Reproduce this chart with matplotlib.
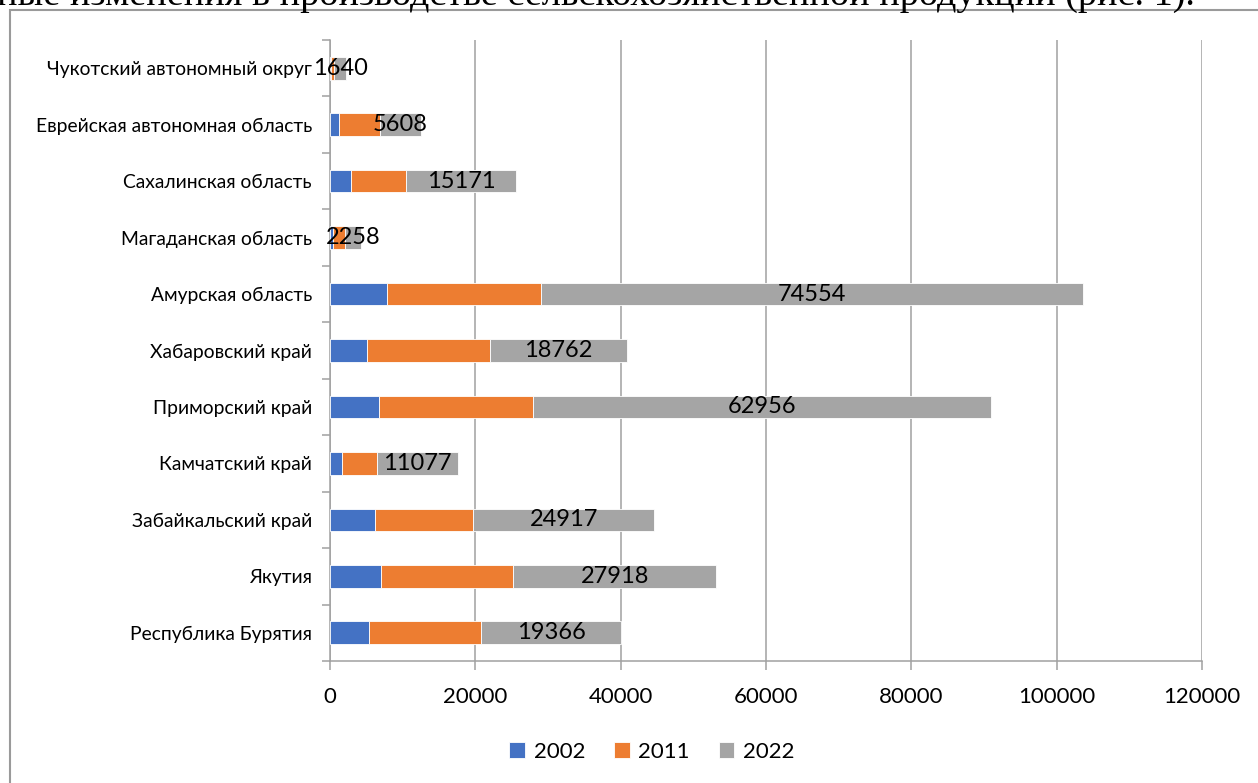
import matplotlib
matplotlib.use('Agg')
import matplotlib.pyplot as plt
from matplotlib.patches import Rectangle
import numpy as np

plt.rcParams['font.family'] = ['Lato', 'DejaVu Sans']

# регионы снизу вверх
regions = ['Республика Бурятия', 'Якутия', 'Забайкальский край', 'Камчатский край',
           'Приморский край', 'Хабаровский край', 'Амурская область',
           'Магаданская область', 'Сахалинская область',
           'Еврейская автономная область', 'Чукотский автономный округ']
v2002 = [5370, 7070, 6190, 1700, 6740, 5140, 7890, 370, 2890, 1280, 80]
v2011 = [15370, 18160, 13540, 4810, 21250, 16930, 21150, 1690, 7570, 5600, 530]
v2022 = [19366, 27918, 24917, 11077, 62956, 18762, 74554, 2258, 15171, 5608, 1640]
years = ['2002', '2011', '2022']
xticks = [0, 20000, 40000, 60000, 80000, 100000, 120000]

W, H = 1258, 783
fig = plt.figure(figsize=(W/100, H/100), dpi=100, facecolor='white')
ax = fig.add_axes([330/W, 1-661/H, 872/W, 621/H])

pos = np.arange(len(regions))
c1, c2, c3 = '#4472C4', '#ED7D31', '#A5A5A5'
a = np.array(v2002)
b = np.array(v2011)
c = np.array(v2022)
ax.barh(pos, a, height=0.4, color=c1, edgecolor='white', linewidth=0.6, label=years[0], zorder=3)
ax.barh(pos, b, left=a, height=0.4, color=c2, edgecolor='white', linewidth=0.6, label=years[1], zorder=3)
bars = ax.barh(pos, c, left=a+b, height=0.4, color=c3, edgecolor='white', linewidth=0.6, label=years[2], zorder=3)
ax.bar_label(bars, labels=[str(v) for v in v2022], label_type='center', fontsize=17, color='black', zorder=5)

ax.set_xlim(0, 120000)
ax.set_ylim(-0.5, len(regions)-0.5)
ax.set_xticks(xticks)
ax.set_xticklabels([str(t) for t in xticks], fontsize=16)
ax.set_yticks(pos)
ax.set_yticklabels(regions, fontsize=13.9)
ax.set_yticks(np.arange(-0.5, len(regions), 1), minor=True)

gc = '#a0a0a0'
ax.grid(axis='x', color=gc, linewidth=1.1, zorder=0)
for s in ['top', 'right']:
    ax.spines[s].set_visible(False)
for s in ['left', 'bottom']:
    ax.spines[s].set_color(gc)
    ax.spines[s].set_linewidth(1.1)
ax.tick_params(axis='x', which='major', length=6.5, color=gc, width=1.1, pad=12)
ax.tick_params(axis='y', which='major', length=0, pad=13)
ax.tick_params(axis='y', which='minor', length=6, color=gc, width=1.1)

leg = fig.legend(loc='center', bbox_to_anchor=(652/W, 1-752/H), ncol=3, frameon=False,
                 fontsize=16, handlelength=0.7, handleheight=0.7, handletextpad=0.4,
                 columnspacing=1.3)

# рамка диаграммы
fig.add_artist(Rectangle((10/W, -0.1), 1.2, 1.1-10/H, transform=fig.transFigure,
                         fill=False, edgecolor='#9a9a9a', linewidth=1.5))
# обрезанная строка текста документа сверху
fig.text(-3/W, 1-5/H, 'ные изменения в производстве сельскохозяйственной продукции (рис. 1).',
         family='Liberation Serif', fontsize=27.5, va='baseline', ha='left')

fig.savefig('out.png', dpi=100)
